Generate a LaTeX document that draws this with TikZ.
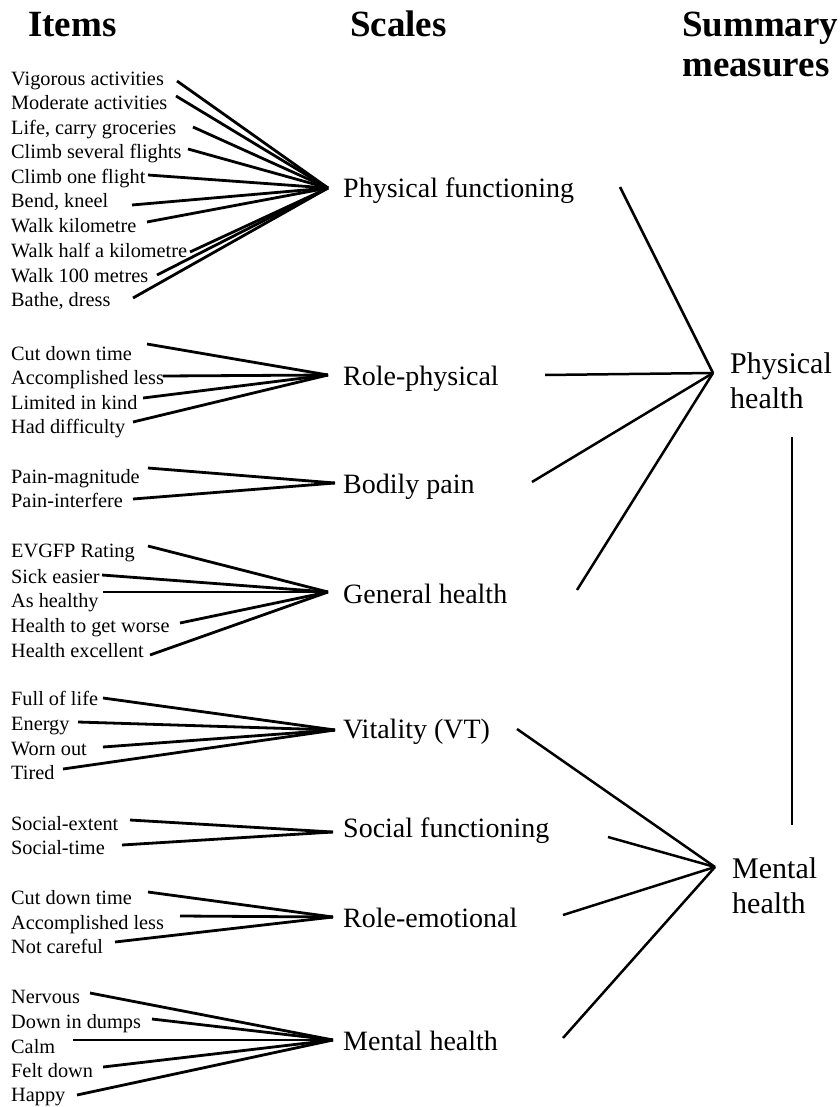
\documentclass[tikz,border=0pt]{standalone}
\usepackage{fontspec}
\setmainfont{Liberation Serif}
\begin{document}
\begin{tikzpicture}[x=1pt,y=-1pt,
  item/.style={anchor=base west, inner sep=0pt, font=\fontsize{20.3}{23}\selectfont},
  scalelbl/.style={anchor=base west, inner sep=0pt, font=\fontsize{28}{32}\selectfont},
  summlbl/.style={anchor=base west, inner sep=0pt, align=left, font=\fontsize{30}{35}\selectfont},
  hdr/.style={anchor=base west, inner sep=0pt, align=left, font=\fontsize{37}{40}\selectfont\bfseries},
  conn/.style={line width=2.8pt},
  link/.style={line width=2.5pt}]
\useasboundingbox (0,0) rectangle (839,1107);

% headers (base anchor = baseline of last line)
\node[hdr] (hItems) at (28,37) {Items};
\node[hdr] (hScales) at (350,37) {Scales};
\node[hdr] (hSumm) at (682,77) {Summary\\measures};

% scale labels and convergence points
\node[scalelbl] (PF) at (343,198) {Physical functioning};
\node[scalelbl] (RP) at (343,385) {Role-physical};
\node[scalelbl] (BP) at (343,493) {Bodily pain};
\node[scalelbl] (GH) at (343,603) {General health};
\node[scalelbl] (VT) at (343,738) {Vitality (VT)};
\node[scalelbl] (SF) at (343,837) {Social functioning};
\node[scalelbl] (RE) at (343,927) {Role-emotional};
\node[scalelbl] (MH) at (343,1050) {Mental health};
\coordinate (cPF) at (328,188);
\coordinate (cRP) at (328,375);
\coordinate (cBP) at (335,483);
\coordinate (cGH) at (328,592);
\coordinate (cVT) at (335,730);
\coordinate (cSF) at (333,832);
\coordinate (cRE) at (333,917);
\coordinate (cMH) at (333,1040);

% summary labels
\node[summlbl] (PHS) at (730,408) {Physical\\health};
\node[summlbl] (MHS) at (732,913) {Mental\\health};
\coordinate (cPH) at (713,373);
\coordinate (cMHS) at (715,867);

% Physical functioning items
\node[item] (pf1) at (11,86) {Vigorous activities};
\node[item] (pf2) at (11,110) {Moderate activities};
\node[item] (pf3) at (11,135) {Life, carry groceries};
\node[item] (pf4) at (11,159) {Climb several flights};
\node[item] (pf5) at (11,184) {Climb one flight};
\node[item] (pf6) at (11,208) {Bend, kneel};
\node[item] (pf7) at (11,233) {Walk kilometre};
\node[item] (pf8) at (11,257) {Walk half a kilometre};
\node[item] (pf9) at (11,282) {Walk 100 metres};
\node[item] (pf10) at (11,306) {Bathe, dress};
\coordinate (epf1) at (177,81);
\coordinate (epf2) at (176,96);
\coordinate (epf3) at (193,127);
\coordinate (epf4) at (188,149);
\coordinate (epf5) at (148,175);
\coordinate (epf6) at (132,205);
\coordinate (epf7) at (147,222);
\coordinate (epf8) at (190,252);
\coordinate (epf9) at (157,275);
\coordinate (epf10) at (133,298);
\foreach \i in {1,...,10} {\draw[conn] (epf\i) -- (cPF);}

% Role-physical items
\node[item] (rp1) at (11,360) {Cut down time};
\node[item] (rp2) at (11,384) {Accomplished less};
\node[item] (rp3) at (11,409) {Limited in kind};
\node[item] (rp4) at (11,433) {Had difficulty};
\coordinate (erp1) at (147,344);
\coordinate (erp2) at (163,376);
\coordinate (erp3) at (143,398);
\coordinate (erp4) at (133,422);
\foreach \i in {1,...,4} {\draw[conn] (erp\i) -- (cRP);}

% Bodily pain items
\node[item] (bp1) at (11,483) {Pain-magnitude};
\node[item] (bp2) at (11,507) {Pain-interfere};
\coordinate (ebp1) at (148,468);
\coordinate (ebp2) at (133,499);
\foreach \i in {1,2} {\draw[conn] (ebp\i) -- (cBP);}

% General health items
\node[item] (gh1) at (11,557) {EVGFP Rating};
\node[item] (gh2) at (11,583) {Sick easier};
\node[item] (gh3) at (11,607) {As healthy};
\node[item] (gh4) at (11,632) {Health to get worse};
\node[item] (gh5) at (11,657) {Health excellent};
\coordinate (egh1) at (148,546);
\coordinate (egh2) at (102,575);
\coordinate (egh3) at (103,592);
\coordinate (egh4) at (180,623);
\coordinate (egh5) at (150,655);
\foreach \i in {1,...,5} {\draw[conn] (egh\i) -- (cGH);}

% Vitality items
\node[item] (vt1) at (11,705) {Full of life};
\node[item] (vt2) at (11,730) {Energy};
\node[item] (vt3) at (11,755) {Worn out};
\node[item] (vt4) at (11,779) {Tired};
\coordinate (evt1) at (103,698);
\coordinate (evt2) at (78,722);
\coordinate (evt3) at (103,747);
\coordinate (evt4) at (63,769);
\foreach \i in {1,...,4} {\draw[conn] (evt\i) -- (cVT);}

% Social functioning items
\node[item] (sf1) at (11,830) {Social-extent};
\node[item] (sf2) at (11,854) {Social-time};
\coordinate (esf1) at (130,820);
\coordinate (esf2) at (122,845);
\foreach \i in {1,2} {\draw[conn] (esf\i) -- (cSF);}

% Role-emotional items
\node[item] (re1) at (11,904) {Cut down time};
\node[item] (re2) at (11,929) {Accomplished less};
\node[item] (re3) at (11,953) {Not careful};
\coordinate (ere1) at (148,892);
\coordinate (ere2) at (180,916);
\coordinate (ere3) at (115,942);
\foreach \i in {1,...,3} {\draw[conn] (ere\i) -- (cRE);}

% Mental health items
\node[item] (mh1) at (11,1003) {Nervous};
\node[item] (mh2) at (11,1028) {Down in dumps};
\node[item] (mh3) at (11,1053) {Calm};
\node[item] (mh4) at (11,1077) {Felt down};
\node[item] (mh5) at (11,1101) {Happy};
\coordinate (emh1) at (90,993);
\coordinate (emh2) at (152,1019);
\coordinate (emh3) at (73,1040);
\coordinate (emh4) at (103,1067);
\coordinate (emh5) at (77,1095);
\foreach \i in {1,...,5} {\draw[conn] (emh\i) -- (cMH);}

% scales to summary measures
\coordinate (sPF) at (620,187);
\coordinate (sRP) at (545,375);
\coordinate (sBP) at (532,482);
\coordinate (sGH) at (577,590);
\coordinate (sVT) at (517,729);
\coordinate (sSF) at (608,837);
\coordinate (sRE) at (563,915);
\coordinate (sMH) at (563,1038);
\draw[link] (sPF) -- (cPH);
\draw[link] (sRP) -- (cPH);
\draw[link] (sBP) -- (cPH);
\draw[link] (sGH) -- (cPH);
\draw[link] (sVT) -- (cMHS);
\draw[link] (sSF) -- (cMHS);
\draw[link] (sRE) -- (cMHS);
\draw[link] (sMH) -- (cMHS);

% link between summary measures
\coordinate (vTop) at (792,437);
\coordinate (vBot) at (792,825);
\draw[link, line width=2.8pt] (vTop) -- (vBot);
\end{tikzpicture}
\end{document}
